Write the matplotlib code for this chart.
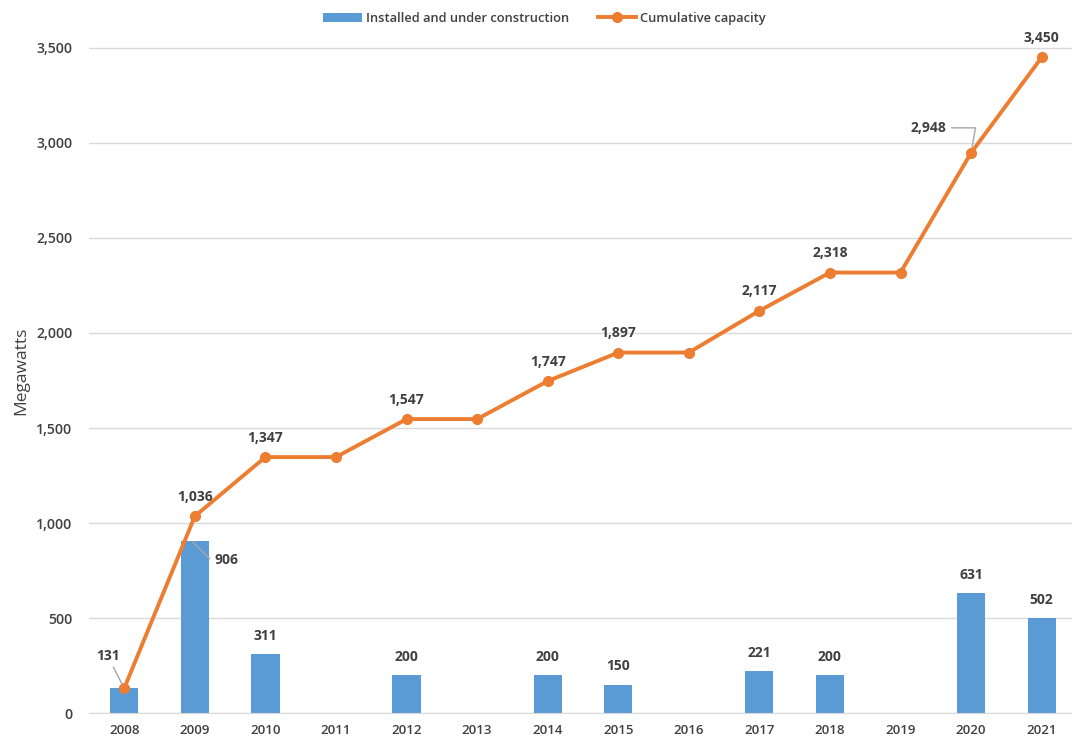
import matplotlib.pyplot as plt
import numpy as np

years = ['2008', '2009', '2010', '2011', '2012', '2013', '2014',
         '2015', '2016', '2017', '2018', '2019', '2020', '2021']
installed = [131, 906, 311, 0, 200, 0, 200, 150, 0, 221, 200, 0, 631, 502]
cumulative = [131, 1036, 1347, 1347, 1547, 1547, 1747, 1897, 1897,
              2117, 2318, 2318, 2948, 3450]

plt.rcParams['font.family'] = ['Open Sans', 'DejaVu Sans']
blue = '#5B9BD5'
orange = '#ED7D31'
txt = '#404040'

fig = plt.figure(figsize=(10.72, 7.42), dpi=100)
ax = fig.add_axes([0.083, 0.039, 0.9216, 0.922])

x = np.arange(len(years))
bars = ax.bar(x, installed, width=0.4, color=blue, zorder=2)
line, = ax.plot(x, cumulative, color=orange, lw=2.8, marker='o', ms=7,
                zorder=3)

ax.set_xlim(-0.5, len(years) - 0.5)
ax.set_ylim(0, 3600)
ax.set_yticks(range(0, 3501, 500))
ax.set_yticklabels([f'{v:,}' for v in range(0, 3501, 500)])
ax.set_xticks(x)
ax.set_xticklabels(years)
ax.yaxis.grid(True, color='#D9D9D9', lw=1)
ax.set_axisbelow(True)
for s in ['top', 'right', 'left']:
    ax.spines[s].set_visible(False)
ax.spines['bottom'].set_color('#D9D9D9')
ax.tick_params(length=0, colors=txt)
ax.tick_params(axis='x', labelsize=9.5, pad=8)
ax.tick_params(axis='y', labelsize=10.2, pad=12)
for lbl in ax.get_xticklabels() + ax.get_yticklabels():
    lbl.set_fontweight('semibold')
ax.set_ylabel('Megawatts', fontsize=12.5, color=txt, labelpad=5)

lab_kw = dict(fontsize=10, fontweight='bold', color=txt)

# bar labels (2008 and 2009 get their own placement)
for i, v in enumerate(installed):
    if v == 0 or i in (0, 1):
        continue
    ax.annotate(f'{v:,}', (i, v), xytext=(0, 8), textcoords='offset points',
                ha='center', va='bottom', **lab_kw)

# cumulative labels only where the total changes
for i, v in enumerate(cumulative):
    if i > 0 and v == cumulative[i - 1]:
        continue
    if i in (0, 12):
        continue
    ax.annotate(f'{v:,}', (i, v), xytext=(0, 9), textcoords='offset points',
                ha='center', va='bottom', **lab_kw)

grey = '#A6A6A6'
ax.annotate(f'{cumulative[0]:,}', (0, cumulative[0]), xytext=(-12, 18),
            textcoords='offset points', ha='center', va='bottom',
            arrowprops=dict(arrowstyle='-', color=grey, lw=1,
                            shrinkA=1, shrinkB=3), **lab_kw)
ax.annotate(f'{installed[1]:,}', (0.97, installed[1] - 5), xytext=(16, -13),
            textcoords='offset points', ha='left', va='center',
            arrowprops=dict(arrowstyle='-', color=grey, lw=1,
                            connectionstyle='angle,angleA=0,angleB=-45',
                            shrinkA=2, shrinkB=0), **lab_kw)
ax.annotate(f'{cumulative[12]:,}', (12, cumulative[12]), xytext=(-18, 18),
            textcoords='offset points', ha='right', va='center',
            arrowprops=dict(arrowstyle='-', color=grey, lw=1,
                            connectionstyle='angle,angleA=0,angleB=80',
                            shrinkA=2, shrinkB=4), **lab_kw)

leg = fig.legend([bars, line],
                 ['Installed and under construction', 'Cumulative capacity'],
                 loc='upper center', bbox_to_anchor=(0.508, 1.0), ncol=2,
                 frameon=False, fontsize=9.3, handlelength=3.0,
                 columnspacing=2.2, handletextpad=0.3)
for t in leg.get_texts():
    t.set_color(txt)
    t.set_fontweight('semibold')

fig.savefig('out.png', dpi=100)
